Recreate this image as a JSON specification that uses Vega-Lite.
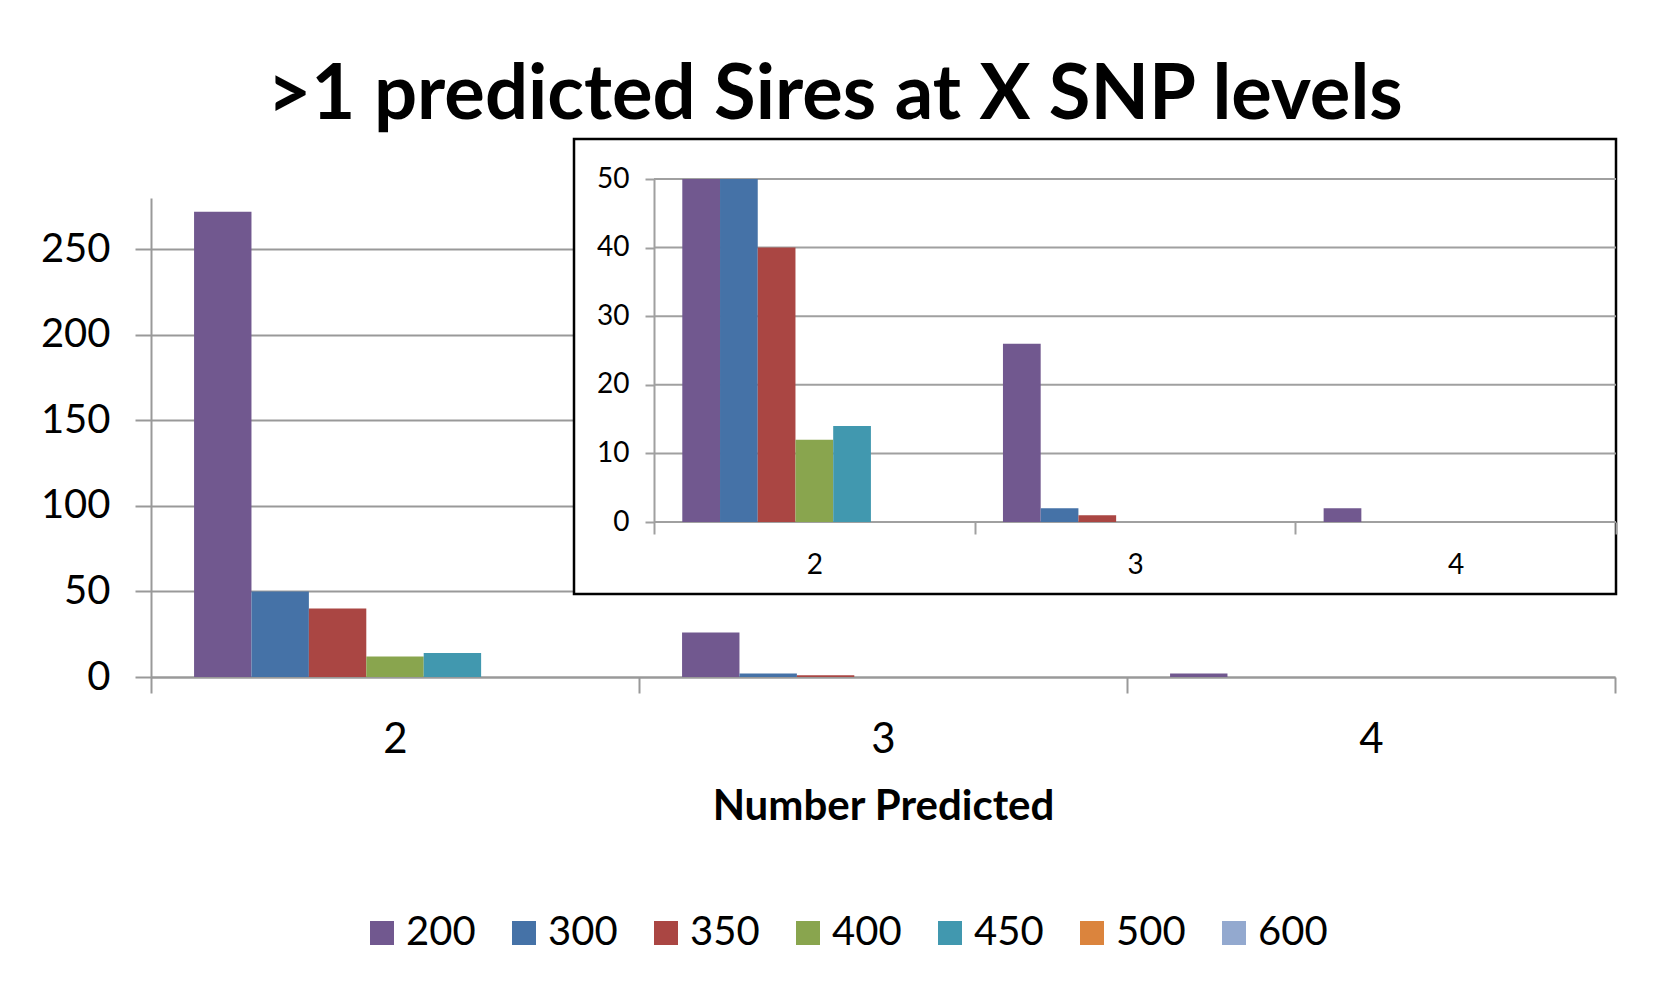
{
  "$schema": "https://vega.github.io/schema/vega-lite/v6.json",
  "autosize": {"type": "none"},
  "width": 1464,
  "height": 479,
  "padding": {"left": 151, "top": 198, "right": 54, "bottom": 319},
  "background": "#ffffff",
  "title": {
    "text": ">1 predicted Sires at X SNP levels",
    "font": "Lato",
    "fontSize": 76,
    "fontWeight": "bold",
    "color": "#000000",
    "anchor": "middle",
    "dx": -48,
    "offset": 3
  },
  "datasets": {
    "sires": [
      {"predicted": "2", "snp": "200", "count": 272},
      {"predicted": "2", "snp": "300", "count": 50},
      {"predicted": "2", "snp": "350", "count": 40},
      {"predicted": "2", "snp": "400", "count": 12},
      {"predicted": "2", "snp": "450", "count": 14},
      {"predicted": "2", "snp": "500", "count": 0},
      {"predicted": "2", "snp": "600", "count": 0},
      {"predicted": "3", "snp": "200", "count": 26},
      {"predicted": "3", "snp": "300", "count": 2},
      {"predicted": "3", "snp": "350", "count": 1},
      {"predicted": "3", "snp": "400", "count": 0},
      {"predicted": "3", "snp": "450", "count": 0},
      {"predicted": "3", "snp": "500", "count": 0},
      {"predicted": "3", "snp": "600", "count": 0},
      {"predicted": "4", "snp": "200", "count": 2},
      {"predicted": "4", "snp": "300", "count": 0},
      {"predicted": "4", "snp": "350", "count": 0},
      {"predicted": "4", "snp": "400", "count": 0},
      {"predicted": "4", "snp": "450", "count": 0},
      {"predicted": "4", "snp": "500", "count": 0},
      {"predicted": "4", "snp": "600", "count": 0}
    ],
    "insetGrid": [
      {"level": 0}, {"level": 10}, {"level": 20}, {"level": 30}, {"level": 40}, {"level": 50}
    ]
  },
  "resolve": {
    "scale": {"x": "independent", "y": "independent", "xOffset": "independent"},
    "axis": {"x": "independent", "y": "independent"}
  },
  "layer": [
    {
      "data": {"name": "sires"},
      "mark": {"type": "bar"},
      "encoding": {
        "x": {
          "field": "predicted", "type": "nominal",
          "scale": {"paddingInner": 0, "paddingOuter": 0},
          "axis": {
            "title": "Number Predicted",
            "titleFont": "Lato", "titleFontSize": 42, "titleFontWeight": "bold", "titleColor": "#000000",
            "titlePadding": 26,
            "labelAngle": 0, "labelFont": "Lato", "labelFontSize": 42, "labelColor": "#000000", "labelPadding": 26,
            "tickBand": "extent", "tickSize": 16, "tickColor": "#999999", "tickWidth": 2,
            "domainColor": "#999999", "domainWidth": 2, "zindex": 0
          }
        },
        "xOffset": {
          "field": "snp", "type": "nominal",
          "scale": {"domain": ["200", "300", "350", "400", "450", "500", "600"], "paddingInner": 0, "paddingOuter": 0.75}
        },
        "y": {
          "field": "count", "type": "quantitative",
          "scale": {"domain": [0, 280], "nice": false},
          "axis": {
            "title": null, "values": [0, 50, 100, 150, 200, 250],
            "grid": true, "gridColor": "#999999", "gridWidth": 2,
            "labelFont": "Lato", "labelFontSize": 40, "labelColor": "#000000", "labelPadding": 25,
            "tickSize": 16, "tickColor": "#999999", "tickWidth": 2,
            "domainColor": "#999999", "domainWidth": 2, "zindex": 0
          }
        },
        "color": {
          "field": "snp", "type": "nominal",
          "scale": {
            "domain": ["200", "300", "350", "400", "450", "500", "600"],
            "range": ["#71588F", "#4572A7", "#AA4643", "#89A54E", "#4198AF", "#DB843D", "#93A9CF"]
          },
          "legend": {
            "orient": "none", "legendX": 211, "legendY": 715,
            "direction": "horizontal", "title": null, "padding": 0,
            "symbolType": "square", "symbolSize": 576, "symbolStrokeWidth": 0, "symbolOpacity": 1,
            "labelFont": "Lato", "labelFontSize": 40, "labelColor": "#000000", "labelOffset": 4,
            "columnPadding": 28
          }
        }
      }
    },
    {
      "data": {"values": [{"panel": "inset"}]},
      "mark": {"type": "rect", "fill": "#ffffff", "stroke": "#000000", "strokeWidth": 2.5},
      "encoding": {
        "x": {"datum": 0, "type": "quantitative", "scale": {"domain": [0, 1], "range": [423, 1465], "nice": false}, "axis": null},
        "x2": {"datum": 1},
        "y": {"datum": 0, "type": "quantitative", "scale": {"domain": [0, 1], "range": [396, -59], "nice": false}, "axis": null},
        "y2": {"datum": 1}
      }
    },
    {
      "data": {"name": "insetGrid"},
      "mark": {"type": "rule", "color": "#a0a0a0", "strokeWidth": 2},
      "encoding": {
        "x": {"datum": 0, "type": "quantitative", "scale": {"domain": [0, 1], "range": [503, 1465], "nice": false}, "axis": null},
        "x2": {"datum": 1},
        "y": {"field": "level", "type": "quantitative", "scale": {"domain": [0, 50], "range": [324, -19], "nice": false}, "axis": null}
      }
    },
    {
      "data": {"name": "sires"},
      "mark": {"type": "bar"},
      "encoding": {
        "x": {
          "field": "predicted", "type": "nominal",
          "scale": {"range": [503, 1465], "paddingInner": 0, "paddingOuter": 0},
          "axis": {
            "orient": "bottom", "offset": -155, "title": null,
            "labelAngle": 0, "labelFont": "Lato", "labelFontSize": 28, "labelColor": "#000000", "labelPadding": 17,
            "tickBand": "extent", "tickSize": 12, "tickColor": "#a0a0a0", "tickWidth": 2,
            "domain": false, "zindex": 1
          }
        },
        "xOffset": {
          "field": "snp", "type": "nominal",
          "scale": {"domain": ["200", "300", "350", "400", "450", "500", "600"], "paddingInner": 0, "paddingOuter": 0.75}
        },
        "y": {
          "field": "count", "type": "quantitative",
          "scale": {"domain": [0, 50], "range": [324, -19], "nice": false, "clamp": true},
          "axis": {
            "orient": "left", "offset": -503, "title": null, "values": [0, 10, 20, 30, 40, 50],
            "grid": false,
            "labelFont": "Lato", "labelFontSize": 28, "labelColor": "#000000", "labelPadding": 16,
            "tickSize": 9, "tickColor": "#a0a0a0", "tickWidth": 2,
            "domainColor": "#a0a0a0", "domainWidth": 2, "zindex": 1
          }
        },
        "color": {
          "field": "snp", "type": "nominal",
          "scale": {
            "domain": ["200", "300", "350", "400", "450", "500", "600"],
            "range": ["#71588F", "#4572A7", "#AA4643", "#89A54E", "#4198AF", "#DB843D", "#93A9CF"]
          }
        }
      }
    }
  ],
  "config": {
    "view": {"stroke": null},
    "axis": {"labelFont": "Lato", "labelColor": "#000000"}
  }
}
